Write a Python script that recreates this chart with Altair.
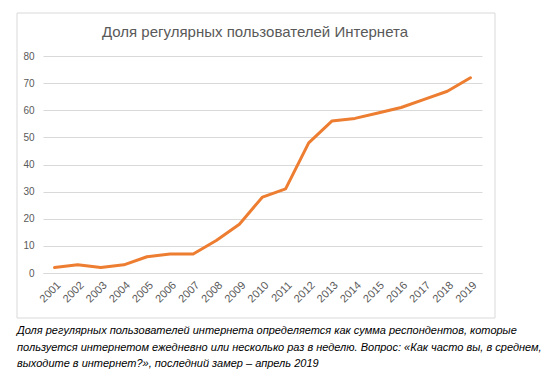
import altair as alt
import pandas as pd

years = [str(y) for y in range(2001, 2020)]
values = [2, 3, 2, 3, 6, 7, 7, 12, 18, 28, 31, 48, 56, 57, 59, 61, 64, 67, 72]
title_text = "Доля регулярных пользователей Интернета"
caption_lines = [
    "Доля регулярных пользователей интернета определяется как сумма респондентов, которые",
    "пользуется интернетом ежедневно или несколько раз в неделю. Вопрос: «Как часто вы, в среднем,",
    "выходите в интернет?», последний замер – апрель 2019",
]

df = pd.DataFrame({"year": years, "value": values})
one = pd.DataFrame({"a": [0]})

W, H = 439, 217

border = alt.Chart(one).mark_rect(
    fillOpacity=0, stroke="#d9d9d9", strokeWidth=1
).encode(
    x=alt.value(-26), x2=alt.value(452), y=alt.value(-43), y2=alt.value(262)
)

line = alt.Chart(df).mark_line(color="#ED7D31", strokeWidth=3, strokeJoin="round", strokeCap="round").encode(
    x=alt.X("year:O", sort=years, scale=alt.Scale(type="point", padding=0.5),
            axis=alt.Axis(title=None, labelAngle=-45, labelColor="#595959", labelFontSize=11,
                          labelFont="Liberation Sans", ticks=False, domainColor="#d9d9d9",
                          labelPadding=6, labelAlign="right", labelBaseline="top")),
    y=alt.Y("value:Q", scale=alt.Scale(domain=[0, 80]),
            axis=alt.Axis(title=None, values=list(range(0, 81, 10)), gridColor="#d9d9d9",
                          domain=False, ticks=False, labelColor="#595959", labelFontSize=10,
                          labelFont="Liberation Sans", labelPadding=9)),
)

title = alt.Chart(one).mark_text(
    text=title_text, font="Liberation Sans", fontSize=15, color="#595959", align="center", baseline="middle"
).encode(x=alt.value(212), y=alt.value(-24))

caption = alt.Chart(one).mark_text(
    text=caption_lines, font="Liberation Sans", fontStyle="italic", fontSize=11, color="black",
    align="left", baseline="middle", lineHeight=16.5
).encode(x=alt.value(-26), y=alt.value(275))

chart = alt.layer(line, border, title, caption).properties(
    width=W, height=H,
    padding={"left": 35, "top": 48, "right": 60, "bottom": 100},
    autosize=alt.AutoSizeParams(type="none"),
).configure_view(stroke=None)

chart.save("out.html", embed_options={"renderer": "svg", "actions": False})
